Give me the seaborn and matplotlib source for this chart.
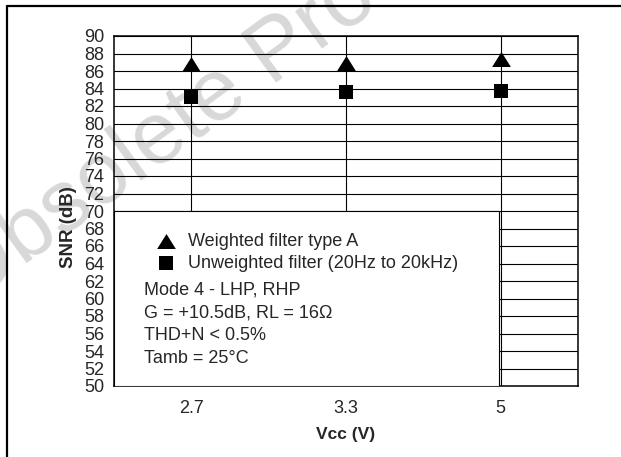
import matplotlib
matplotlib.use("Agg")
import matplotlib.pyplot as plt
import pandas as pd
import seaborn as sns
from matplotlib.lines import Line2D
from matplotlib.patches import Rectangle
from matplotlib.ticker import MultipleLocator, FixedLocator

# values
vcc_labels = ["2.7", "3.3", "5"]
snr_weighted = [86.8, 86.95, 87.4]
snr_unweighted = [83.0, 83.6, 83.7]
series_names = ["Weighted filter type A", "Unweighted filter (20Hz to 20kHz)"]
note_lines = ["Mode 4 - LHP, RHP",
              "G = +10.5dB, RL = 16\u03a9",
              "THD+N < 0.5%",
              "Tamb = 25\u00b0C"]
y_min, y_max = 50, 90

sns.set_style("white")
plt.rcParams["font.family"] = ["Liberation Sans", "DejaVu Sans"]

df_w = pd.DataFrame({"vcc": vcc_labels, "snr": snr_weighted})
df_u = pd.DataFrame({"vcc": vcc_labels, "snr": snr_unweighted})

W, H = 621, 457
fig = plt.figure(figsize=(W / 100, H / 100), dpi=100)
ax = fig.add_axes([114 / W, 1 - 386 / H, 464 / W, 350 / H])
ax.set_facecolor("none")

# wide, flat triangle like the original marker
tri = [(-1, -0.8), (1, -0.8), (0, 0.8)]
sns.scatterplot(data=df_w, x="vcc", y="snr", marker=tri, s=182, color="black",
                linewidth=0, label=series_names[0], ax=ax, zorder=4)
sns.scatterplot(data=df_u, x="vcc", y="snr", marker="s", s=88, color="black",
                linewidth=0, label=series_names[1], ax=ax, zorder=4)

ax.set_xlim(-0.5, 2.5)
ax.set_ylim(y_min, y_max)
ax.yaxis.set_major_locator(MultipleLocator(2))
ax.yaxis.set_minor_locator(MultipleLocator(1))
ax.xaxis.set_minor_locator(FixedLocator([0.5, 1.5]))
ax.grid(True, which="major", color="black", linewidth=0.8)
ax.tick_params(which="both", direction="in", color="black", labelsize=13)
ax.tick_params(which="major", length=0)
ax.tick_params(which="minor", length=4, width=0.8)
ax.tick_params(axis="y", pad=7)
ax.tick_params(axis="x", pad=10)
for sp in ax.spines.values():
    sp.set_color("black")
    sp.set_linewidth(1.1)

ax.set_xlabel("Vcc (V)", fontsize=12.5, fontweight="bold")
ax.set_ylabel("SNR (dB)", fontsize=13.5, fontweight="bold")
ax.xaxis.set_label_coords(0.5, -0.117)
ax.yaxis.set_label_coords(-0.08, 0.454)

# white box holding legend and test conditions
ax.add_patch(Rectangle((0, 0), 0.83, 0.5, transform=ax.transAxes,
                       facecolor="white", edgecolor="black", linewidth=0.8, zorder=3))
leg = ax.legend(loc="upper left", bbox_to_anchor=(0.0927, 0.437), frameon=False,
                fontsize=13, borderpad=0, borderaxespad=0, handlelength=1.0,
                handletextpad=0.72, labelspacing=0.27, scatterpoints=1)
leg.set_zorder(5)
for i, line in enumerate(note_lines):
    ax.text(0.065, 0.274 - i * 0.065, line, transform=ax.transAxes, fontsize=13,
            va="center", ha="left", zorder=5)

# page frame and watermark
fig.add_artist(Line2D([7 / W, 1], [1 - 6 / H] * 2, color="black", lw=1.6))
fig.add_artist(Line2D([7 / W] * 2, [0, 1 - 6 / H], color="black", lw=1.6))
fig.text(-33 / W, 1 - 306 / H, "Obsolete Product(s)", fontsize=63, color="#d8d8d8",
         rotation=36, rotation_mode="anchor", ha="left", va="baseline", zorder=-1)

fig.savefig("out.png", dpi=100)
